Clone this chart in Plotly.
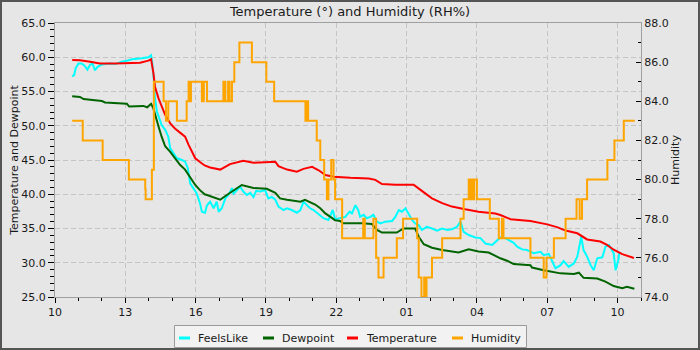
import pandas as pd
import plotly.graph_objects as go

# Readings: minutes after 10:00 on the first day, and the value at that time
START = pd.Timestamp("2024-06-14 10:00")

temp_min = [44, 64, 90, 115, 154, 192, 218, 239, 246, 252,
            256, 265, 273, 282, 295, 307, 320, 333, 342, 350,
            359, 371, 383, 397, 423, 448, 482, 508, 538, 564,
            572, 594, 619, 636, 658, 675, 692, 713, 756, 803,
            820, 837, 871, 918, 939, 965, 991, 1016, 1050, 1084,
            1127, 1140, 1166, 1217, 1260, 1285, 1307, 1337, 1362, 1396,
            1413, 1430, 1452, 1482]
temp_val = [59.6, 59.55, 59.35, 59.1, 59.1, 59.15, 59.2, 59.5, 59.7, 57.65,
            55.7, 54.0, 52.8, 51.6, 50.35, 49.6, 49.0, 48.4, 47.2, 46.2,
            45.25, 44.7, 44.2, 43.9, 43.6, 44.4, 44.9, 44.6, 44.7, 44.75,
            44.1, 43.6, 43.3, 43.7, 44.0, 43.5, 42.8, 42.55, 42.4, 42.3,
            42.1, 41.5, 41.4, 41.4, 40.5, 39.4, 38.7, 38.2, 37.8, 37.45,
            37.2, 36.97, 36.35, 36.1, 35.6, 35.2, 34.7, 34.3, 33.4, 33.1,
            32.6, 31.9, 31.25, 30.7]

dew_min = [44, 64, 73, 102, 120, 128, 162, 184, 190, 218,
           226, 236, 246, 252, 256, 265, 273, 282, 295, 307,
           320, 333, 346, 359, 371, 383, 389, 406, 423, 436,
           457, 478, 508, 542, 564, 576, 594, 628, 640, 653,
           666, 679, 692, 705, 717, 730, 737, 786, 811, 824,
           837, 875, 892, 922, 931, 944, 965, 991, 1033, 1059,
           1084, 1110, 1127, 1140, 1157, 1174, 1217, 1221, 1251, 1268,
           1294, 1328, 1341, 1353, 1388, 1409, 1430, 1452, 1464, 1483]
dew_val = [54.3, 54.2, 53.9, 53.75, 53.6, 53.4, 53.3, 53.2, 52.8, 52.8,
           52.9, 52.7, 53.2, 52.5, 51.6, 49.9, 48.4, 47.0, 46.2, 45.25,
           44.3, 43.6, 42.55, 41.35, 40.6, 40.0, 39.9, 39.5, 39.2, 39.75,
           40.6, 41.35, 40.9, 40.8, 40.2, 39.4, 39.2, 38.9, 39.2, 38.9,
           38.5, 37.95, 37.2, 36.7, 36.2, 36.1, 35.75, 35.75, 35.65, 34.8,
           34.4, 34.4, 35.0, 35.0, 33.8, 32.7, 32.2, 31.85, 31.5, 31.95,
           31.65, 31.5, 31.0, 30.65, 30.3, 29.8, 29.65, 29.3, 28.9, 28.7,
           28.45, 28.35, 28.55, 27.8, 27.7, 27.25, 26.6, 26.3, 26.5, 26.2]

feels_min = [44, 49, 53, 60, 68, 75, 83, 90, 96, 102,
             109, 118, 128, 141, 154, 171, 184, 197, 222, 239,
             246, 249, 253, 256, 261, 265, 273, 282, 290, 295,
             303, 312, 325, 333, 340, 346, 354, 363, 371, 376,
             384, 389, 397, 406, 414, 419, 427, 436, 444, 453,
             457, 466, 474, 482, 491, 500, 508, 515, 525, 538,
             546, 555, 564, 572, 585, 594, 606, 619, 628, 636,
             645, 653, 662, 675, 687, 700, 711, 717, 730, 743,
             754, 760, 769, 776, 781, 790, 798, 807, 815, 824,
             833, 845, 863, 871, 880, 888, 897, 905, 914, 922,
             931, 939, 952, 965, 978, 991, 1004, 1016, 1029, 1038,
             1046, 1059, 1076, 1089, 1102, 1119, 1131, 1140, 1153, 1166,
             1174, 1183, 1196, 1208, 1217, 1225, 1243, 1251, 1264, 1272,
             1281, 1294, 1302, 1315, 1328, 1337, 1347, 1353, 1362, 1371,
             1379, 1388, 1401, 1409, 1418, 1430, 1435, 1443, 1444]
feels_val = [57.2, 57.4, 58.4, 59.1, 59.1, 58.8, 58.2, 58.9, 59.1, 58.1,
             58.6, 58.9, 59.0, 59.1, 59.0, 59.35, 59.5, 59.7, 59.85, 60.0,
             60.3, 59.1, 56.7, 54.0, 52.05, 51.3, 50.1, 49.4, 48.4, 46.7,
             46.0, 45.25, 45.0, 44.75, 43.8, 41.6, 40.9, 40.1, 38.7, 37.45,
             37.3, 38.4, 38.9, 37.95, 38.9, 37.45, 37.95, 39.4, 39.9, 40.9,
             40.1, 40.6, 41.1, 40.4, 39.9, 40.2, 39.6, 40.5, 40.4, 40.6,
             39.4, 39.6, 39.2, 38.2, 37.7, 37.95, 37.7, 37.3, 37.7, 38.9,
             38.4, 37.95, 37.7, 37.0, 36.5, 36.25, 37.7, 36.35, 36.5, 36.7,
             37.45, 37.2, 38.4, 37.7, 36.7, 37.0, 36.5, 36.7, 37.0, 36.0,
             35.75, 36.0, 36.1, 36.7, 37.7, 37.45, 37.95, 37.2, 36.25, 35.75,
             35.5, 34.8, 35.25, 35.0, 34.7, 35.0, 34.8, 34.9, 35.25, 36.0,
             34.5, 34.05, 33.7, 33.6, 32.8, 32.6, 33.2, 33.7, 33.6, 33.1,
             32.9, 32.35, 31.95, 31.85, 31.6, 31.4, 31.6, 31.1, 31.3, 30.4,
             29.2, 29.65, 30.25, 29.4, 29.9, 30.9, 33.8, 31.85, 30.9, 29.65,
             28.9, 30.65, 30.8, 32.35, 32.6, 31.4, 28.9, 30.65, 31.4]

# Humidity is reported in steps: each value holds until the next change
hum_min = [44, 71, 122, 189, 231, 232, 248, 253, 278, 284,
           290, 312, 337, 342, 345, 348, 376, 381, 389, 431,
           436, 443, 447, 453, 459, 472, 504, 541, 561, 641,
           644, 648, 670, 679, 689, 696, 700, 707, 713, 717,
           735, 789, 793, 815, 822, 828, 841, 875, 891, 927,
           931, 938, 945, 948, 951, 965, 991, 1038, 1046, 1059,
           1062, 1066, 1068, 1073, 1080, 1113, 1136, 1144, 1148, 1217,
           1251, 1258, 1277, 1307, 1335, 1343, 1349, 1362, 1414, 1432,
           1456, 1484]
hum_val = [83, 82, 81, 80, 79.5, 79, 80.5, 85, 84, 83,
           84, 83, 84, 85, 84, 85, 84, 85, 84, 85,
           84, 85, 84, 85, 86, 87, 86, 85, 84, 83,
           84, 83, 82, 81, 80, 79, 80, 81, 80, 79,
           77, 78, 77, 78, 76, 75, 76, 77, 78, 77,
           75, 74, 75, 74, 75, 76, 77, 78, 79, 80,
           79, 80, 79, 80, 79, 78, 77, 78, 77, 76,
           75, 76, 77, 78, 79, 78, 79, 80, 81, 82,
           83, 83]

series_names = ["FeelsLike", "Dewpoint", "Temperature", "Humidity"]
series_colors = ["#00ffff", "#006400", "#ff0000", "#ffa500"]

FONT = "DejaVu Sans"
BG = "#e6e6e6"
GRID = "#c4c4c4"
AXIS = "#a0a0a0"

# figure geometry (pixels)
W, H = 700, 350
ML, MR, MT, MB = 55, 59, 23, 53
PW, PH = W - ML - MR, H - MT - MB


def to_time(minutes):
    return START + pd.to_timedelta(minutes, unit="m")


def px_x(px):
    return (px - ML) / PW


def px_y(py):
    return (H - MB - py) / PH


fig = go.Figure()
data = [
    (feels_min, feels_val, "y", "linear"),
    (dew_min, dew_val, "y", "linear"),
    (temp_min, temp_val, "y", "linear"),
    (hum_min, hum_val, "y2", "hv"),
]
for (mins, vals, ax, shape), name, color in zip(data, series_names, series_colors):
    fig.add_trace(go.Scatter(
        x=to_time(mins), y=vals, name=name, yaxis=ax, mode="lines",
        line=dict(color=color, width=2, shape=shape), showlegend=False,
    ))

tick_font = dict(family=FONT, size=11, color="#1a1a1a")

fig.update_layout(
    width=W, height=H,
    margin=dict(l=ML, r=MR, t=MT, b=MB, pad=0),
    paper_bgcolor=BG, plot_bgcolor=BG,
    font=dict(family=FONT, size=11, color="#1a1a1a"),
    title=dict(text="Temperature (°) and Humidity (RH%)", x=0.5, xanchor="center",
               y=1 - 11 / H, yanchor="middle",
               font=dict(family=FONT, size=13, color="#1a1a1a")),
    xaxis=dict(
        type="date",
        range=[START, START + pd.Timedelta(hours=25)],
        tick0=START, dtick=3 * 3600000, tickformat="%H",
        ticks="outside", ticklen=5, tickcolor="#000", tickwidth=1,
        minor=dict(dtick=3600000, ticks="outside", ticklen=3, tickcolor="#000", showgrid=False),
        showgrid=True, gridcolor=GRID, griddash="5px,3px", gridwidth=1,
        showline=True, linecolor=AXIS, linewidth=1, mirror=True,
        zeroline=False, tickfont=tick_font,
    ),
    yaxis=dict(
        range=[25, 65], dtick=5, tick0=25, tickformat=".1f",
        ticks="outside", ticklen=6, tickcolor="#000",
        minor=dict(dtick=1, ticks="outside", ticklen=4, tickcolor="#000", showgrid=False),
        showgrid=True, gridcolor=GRID, griddash="5px,3px", gridwidth=1,
        showline=True, linecolor=AXIS, linewidth=1, mirror=True,
        zeroline=False, tickfont=tick_font,
        title=dict(text="Temperature and Dewpoint", standoff=0,
                   font=dict(family=FONT, size=11, color="#1a1a1a")),
    ),
    yaxis2=dict(
        overlaying="y", side="right",
        range=[74, 88], dtick=2, tick0=74, tickformat=".1f",
        ticks="inside", ticklen=5, tickcolor="#000",
        minor=dict(dtick=1, ticks="inside", ticklen=3, tickcolor="#000", showgrid=False),
        showgrid=False, showline=True, linecolor=AXIS, linewidth=1,
        zeroline=False, tickfont=tick_font,
        title=dict(text="Humidity", standoff=1,
                   font=dict(family=FONT, size=11, color="#1a1a1a")),
    ),
)

# legend panel below the plot
shapes = [dict(type="rect", xref="paper", yref="paper",
               x0=px_x(174.5), x1=px_x(526.5), y0=px_y(347.5), y1=px_y(325.5),
               fillcolor="#f2f2f2", line=dict(color="#9a9a9a", width=1), layer="below")]
annotations = []
legend_left = [179, 263, 347, 452]
legend_y = 338
for left, name, color in zip(legend_left, series_names, series_colors):
    shapes.append(dict(type="line", xref="paper", yref="paper",
                       x0=px_x(left), x1=px_x(left + 11),
                       y0=px_y(legend_y), y1=px_y(legend_y),
                       line=dict(color=color, width=3)))
    annotations.append(dict(xref="paper", yref="paper", x=px_x(left + 17), y=px_y(legend_y),
                            xanchor="left", yanchor="middle", showarrow=False, text=name,
                            font=dict(family=FONT, size=11, color="#1a1a1a")))

# outer frame
shapes.append(dict(type="rect", xref="paper", yref="paper",
                   x0=px_x(1), x1=px_x(W - 1), y0=px_y(H - 1), y1=px_y(1),
                   line=dict(color="#555555", width=2), fillcolor="rgba(0,0,0,0)"))

fig.update_layout(shapes=shapes, annotations=annotations)

fig.write_html("out.html")
